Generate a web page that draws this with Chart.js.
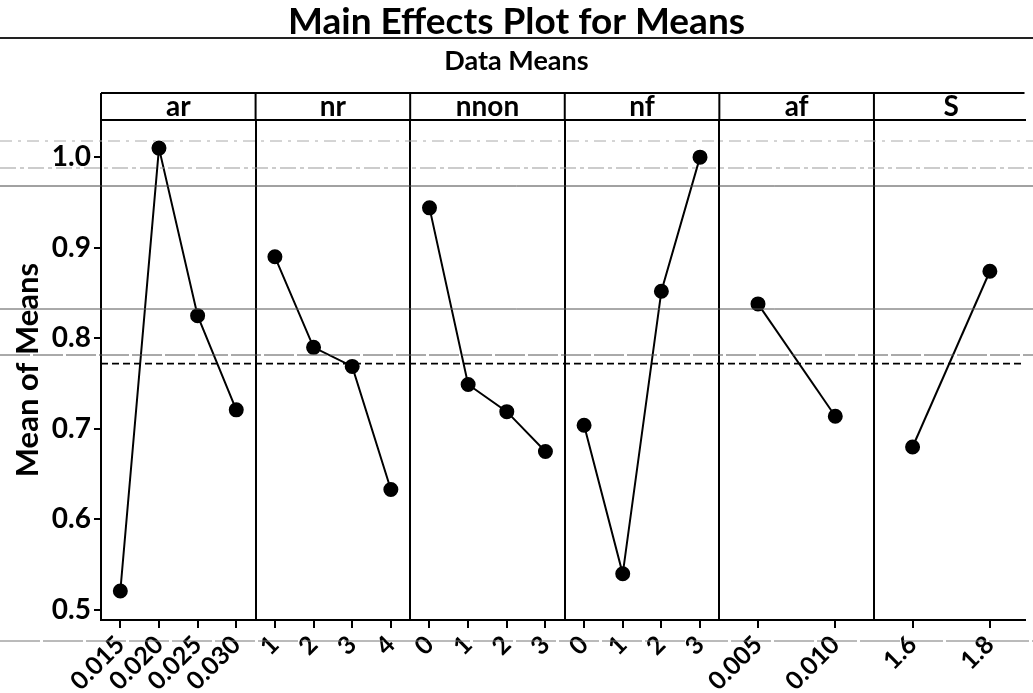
<!DOCTYPE html>
<html>
<head>
<meta charset="utf-8">
<title>Main Effects Plot for Means</title>
<script src="https://cdn.jsdelivr.net/npm/chart.js@4.4.1/dist/chart.umd.min.js"></script>
<style>
    html, body { margin: 0; padding: 0; background: #fff; }
    #wrap { width: 1033px; height: 693px; }
</style>
</head>
<body>
<div id="wrap"><canvas id="effectsChart"></canvas></div>
<script>
// factors (one panel each) and their levels
const factors = ["ar", "nr", "nnon", "nf", "af", "S"];
const arLevels = ["0.015", "0.020", "0.025", "0.030"];
const nrLevels = ["1", "2", "3", "4"];
const nnonLevels = ["0", "1", "2", "3"];
const nfLevels = ["0", "1", "2", "3"];
const afLevels = ["0.005", "0.010"];
const sLevels = ["1.6", "1.8"];

// mean of means at each level
const arMeans = [0.521, 1.010, 0.825, 0.721];
const nrMeans = [0.890, 0.790, 0.769, 0.633];
const nnonMeans = [0.944, 0.749, 0.719, 0.675];
const nfMeans = [0.704, 0.540, 0.852, 1.000];
const afMeans = [0.838, 0.714];
const sMeans = [0.680, 0.874];
const grandMean = 0.772;

const yTicks = [0.5, 0.6, 0.7, 0.8, 0.9, 1.0];

const allLevels = [arLevels, nrLevels, nnonLevels, nfLevels, afLevels, sLevels];
const allMeans = [arMeans, nrMeans, nnonMeans, nfMeans, afMeans, sMeans];

// each panel is one unit wide on the x scale; the last one is cut by the page edge
const X_MAX = 5.974;
function levelX(panel, k, n) {
    return panel + (k + 0.5) / n;
}

const xTickValues = [];
const xTickLabels = [];
allLevels.forEach((levels, p) => {
    levels.forEach((lab, k) => {
        xTickValues.push(levelX(p, k, levels.length));
        xTickLabels.push(lab);
    });
});

const datasets = allMeans.map((means, p) => ({
    label: factors[p],
    data: means.map((y, k) => ({ x: levelX(p, k, means.length), y: y })),
    borderColor: "#000",
    backgroundColor: "#000",
    borderWidth: 2,
    pointRadius: 6.5,
    pointHoverRadius: 6.5,
    tension: 0,
}));
datasets.push({
    label: "Mean",
    data: [{ x: 0, y: grandMean }, { x: X_MAX, y: grandMean }],
    borderColor: "#000",
    borderWidth: 1.6,
    borderDash: [7, 4],
    pointRadius: 0,
});

// panel headings above the plot area
const panelHeaders = {
    id: "panelHeaders",
    afterDraw(chart) {
        const { ctx, chartArea } = chart;
        const x = chart.scales.x;
        const h = 27;
        const top = chartArea.top - h;
        ctx.save();
        ctx.strokeStyle = "#000";
        ctx.lineWidth = 2;
        ctx.beginPath();
        ctx.moveTo(chartArea.left, top);
        ctx.lineTo(chartArea.right, top);
        ctx.moveTo(chartArea.left, top);
        ctx.lineTo(chartArea.left, chartArea.top);
        for (let i = 1; i < factors.length; i++) {
            const px = x.getPixelForValue(i);
            ctx.moveTo(px, top);
            ctx.lineTo(px, chartArea.top);
        }
        ctx.stroke();
        ctx.fillStyle = "#000";
        ctx.font = "bold 28px Lato";
        ctx.textAlign = "center";
        ctx.textBaseline = "middle";
        factors.forEach((f, i) => {
            ctx.fillText(f, x.getPixelForValue(i + 0.5), top + h / 2);
        });
        ctx.restore();
    },
};

// faint horizontal streaks from the scanned original
const scanStreaks = {
    id: "scanStreaks",
    afterDraw(chart) {
        const { ctx, width } = chart;
        ctx.save();
        const streaks = [
            [38, 2, "#222", []],
            [141, 1, "#aaa", [12, 6, 3, 6]],
            [168, 1, "#999", [16, 4, 4, 4]],
            [186, 1, "#444", []],
            [309, 1, "#555", []],
            [355, 1, "#555", [30, 3]],
            [641, 1, "#777", [40, 3]],
        ];
        streaks.forEach(([y, w, c, d]) => {
            ctx.strokeStyle = c;
            ctx.lineWidth = w;
            ctx.setLineDash(d);
            ctx.beginPath();
            ctx.moveTo(0, y);
            ctx.lineTo(width, y);
            ctx.stroke();
        });
        ctx.restore();
    },
};

Chart.defaults.font.family = "Lato";
Chart.defaults.color = "#000";

new Chart(document.getElementById("effectsChart"), {
    type: "line",
    data: { datasets: datasets },
    options: {
        responsive: true,
        maintainAspectRatio: false,
        animation: false,
        layout: { padding: { left: 0, right: 0, top: 0, bottom: 0 } },
        plugins: {
            legend: { display: false },
            tooltip: { enabled: false },
            title: {
                display: true,
                text: "Main Effects Plot for Means",
                font: { size: 37, weight: "bold" },
                padding: { top: 0, bottom: 0 },
            },
            subtitle: {
                display: true,
                text: "Data Means",
                font: { size: 27, weight: "bold" },
                padding: { top: 0.5, bottom: 42.7 },
            },
        },
        scales: {
            x: {
                type: "linear",
                position: "bottom",
                min: 0,
                max: X_MAX,
                afterBuildTicks: (scale) => {
                    scale.ticks = xTickValues.map((v) => ({ value: v }));
                },
                afterFit: (scale) => {
                    scale.height = 73;
                },
                ticks: {
                    autoSkip: false,
                    minRotation: 45,
                    maxRotation: 45,
                    padding: 2,
                    font: { size: 25, weight: "bold" },
                    callback: (value, index) => xTickLabels[index],
                },
                grid: {
                    drawOnChartArea: false,
                    color: "#000",
                    lineWidth: 2,
                    tickLength: 8,
                },
                border: { color: "#000", width: 2 },
            },
            panels: {
                type: "linear",
                position: "top",
                min: 0,
                max: X_MAX,
                afterBuildTicks: (scale) => {
                    scale.ticks = factors.slice(1).map((f, i) => ({ value: i + 1 }));
                },
                afterFit: (scale) => {
                    scale.height = 0;
                },
                ticks: { display: false },
                grid: { color: "#000", lineWidth: 2, drawTicks: false },
                border: { color: "#000", width: 2 },
            },
            y: {
                min: 0.489,
                max: 1.041,
                afterBuildTicks: (scale) => {
                    scale.ticks = yTicks.map((v) => ({ value: v }));
                },
                afterFit: (scale) => {
                    scale.width = 101;
                },
                ticks: {
                    padding: 3,
                    font: { size: 28, weight: "bold" },
                    callback: (value) => value.toFixed(1),
                },
                grid: {
                    drawOnChartArea: false,
                    color: "#000",
                    lineWidth: 2,
                    tickLength: 7,
                },
                border: { color: "#000", width: 2 },
                title: {
                    display: true,
                    text: "Mean of Means",
                    font: { size: 31, weight: "bold" },
                    padding: { top: 9, bottom: 0 },
                },
            },
        },
    },
    plugins: [panelHeaders, scanStreaks],
});
</script>
</body>
</html>
